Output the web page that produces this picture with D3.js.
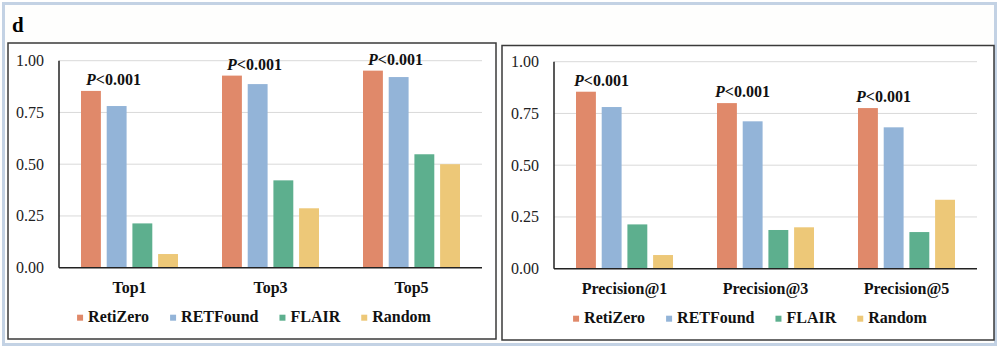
<!DOCTYPE html>
<html>
<head>
<meta charset="utf-8">
<script src="https://cdn.jsdelivr.net/npm/d3@7"></script>
<style>
  html, body { margin: 0; padding: 0; background: #fff; }
  svg { display: block; font-family: "Liberation Serif", "Times New Roman", serif; }
</style>
</head>
<body>
<svg id="chart" width="1000" height="350"></svg>
<script>
// series and colours
const series = ["RetiZero", "RETFound", "FLAIR", "Random"];
const colors = ["#E0896A", "#93B4D8", "#5DAF8E", "#EDC878"];

// panel categories
const topCategories = ["Top1", "Top3", "Top5"];
const precisionCategories = ["Precision@1", "Precision@3", "Precision@5"];

// values per series, one entry per category
const topRetiZero = [0.854, 0.928, 0.952];
const topRETFound = [0.781, 0.887, 0.921];
const topFLAIR = [0.214, 0.422, 0.548];
const topRandom = [0.066, 0.287, 0.500];

const precRetiZero = [0.855, 0.800, 0.776];
const precRETFound = [0.781, 0.712, 0.683];
const precFLAIR = [0.214, 0.187, 0.177];
const precRandom = [0.066, 0.200, 0.333];

const yTicks = [0, 0.25, 0.5, 0.75, 1];
const pLabel = "<0.001";

const svg = d3.select("#chart");

// outer light frame
svg.append("rect")
  .attr("x", 3.5).attr("y", 3.5)
  .attr("width", 992).attr("height", 341)
  .attr("fill", "#fefefd")
  .attr("stroke", "#c3d2e4").attr("stroke-width", 3);

svg.append("text")
  .attr("x", 12).attr("y", 32)
  .attr("font-size", 21).attr("font-weight", "bold")
  .text("d");

/**
 * Draw one grouped bar panel.
 */
function drawPanel(opts) {
  const {box, plot, categories, values, dx} = opts;

  const g = svg.append("g");

  // panel frame
  g.append("rect")
    .attr("x", box.x).attr("y", box.y)
    .attr("width", box.w).attr("height", box.h)
    .attr("fill", "#fff")
    .attr("stroke", "#3a3a3a").attr("stroke-width", 1.5);

  const x0 = d3.scaleBand().domain(categories).range([plot.left, plot.right]).padding(0);
  const x1 = d3.scaleBand().domain(series).range([0, 97]).paddingInner(0.226);
  const y = d3.scaleLinear().domain([0, 1]).range([plot.bottom, plot.top]);

  // gridlines
  g.append("g").selectAll("line")
    .data(yTicks.filter(t => t > 0))
    .join("line")
    .attr("x1", plot.left).attr("x2", plot.right)
    .attr("y1", d => y(d)).attr("y2", d => y(d))
    .attr("stroke", "#d9d9d9").attr("stroke-width", 1);

  // y axis labels
  const yAxis = d3.axisLeft(y).tickValues(yTicks).tickFormat(d3.format(".2f")).tickSize(0).tickPadding(15);
  const ya = g.append("g").attr("transform", `translate(${plot.left},0)`).call(yAxis);
  ya.select(".domain").remove();
  ya.selectAll("text")
    .attr("font-family", "Liberation Serif").attr("font-size", 16)
    .attr("fill", "#222").attr("dy", "0.3em");

  // bars
  const groups = g.append("g").selectAll("g")
    .data(categories)
    .join("g")
    .attr("transform", d => `translate(${x0(d) + x0.bandwidth() / 2 - 48.5},0)`);

  groups.selectAll("rect")
    .data((d, i) => series.map((s, k) => ({s, k, v: values[k][i]})))
    .join("rect")
    .attr("x", d => x1(d.s))
    .attr("y", d => y(d.v))
    .attr("width", x1.bandwidth())
    .attr("height", d => y(0) - y(d.v))
    .attr("fill", d => colors[d.k]);

  // significance labels over RetiZero bars
  const ann = groups.append("text")
    .attr("x", x1(series[0]) + dx)
    .attr("y", (d, i) => y(values[0][i]) - 6)
    .attr("font-size", 16).attr("font-weight", "bold").attr("fill", "#111");
  ann.append("tspan").attr("font-style", "italic").text("P");
  ann.append("tspan").text(pLabel);

  // axis lines
  g.append("line")
    .attr("x1", plot.left).attr("x2", plot.left)
    .attr("y1", y(1)).attr("y2", y(0))
    .attr("stroke", "#222").attr("stroke-width", 1.5);
  g.append("line")
    .attr("x1", plot.left).attr("x2", plot.right)
    .attr("y1", y(0)).attr("y2", y(0))
    .attr("stroke", "#222").attr("stroke-width", 1.5);

  // category labels
  g.append("g").selectAll("text")
    .data(categories)
    .join("text")
    .attr("x", d => x0(d) + x0.bandwidth() / 2)
    .attr("y", plot.bottom + 25)
    .attr("text-anchor", "middle")
    .attr("font-size", 16).attr("font-weight", "bold").attr("fill", "#111")
    .text(d => d);

  // legend, centred in the box
  const leg = g.append("g");
  let cx = 0;
  series.forEach((s, k) => {
    const item = leg.append("g").attr("transform", `translate(${cx},0)`);
    item.append("rect")
      .attr("x", 0).attr("y", -7).attr("width", 6).attr("height", 6)
      .attr("fill", colors[k]);
    const t = item.append("text")
      .attr("x", 11).attr("y", 0)
      .attr("font-size", 16).attr("font-weight", "bold").attr("fill", "#111")
      .text(s);
    cx += 11 + t.node().getComputedTextLength() + 21;
  });
  const legW = cx - 21;
  leg.attr("transform", `translate(${box.x + box.w / 2 - legW / 2 + 2},${plot.bottom + 54})`);
}

drawPanel({
  box: {x: 8, y: 43, w: 488, h: 296},
  plot: {left: 59, right: 482, top: 60.7, bottom: 267.7},
  categories: topCategories,
  values: [topRetiZero, topRETFound, topFLAIR, topRandom],
  dx: 5
});

drawPanel({
  box: {x: 502, y: 45.5, w: 492, h: 294.5},
  plot: {left: 554, right: 977, top: 61.7, bottom: 268.7},
  categories: precisionCategories,
  values: [precRetiZero, precRETFound, precFLAIR, precRandom],
  dx: -2
});
</script>
</body>
</html>
